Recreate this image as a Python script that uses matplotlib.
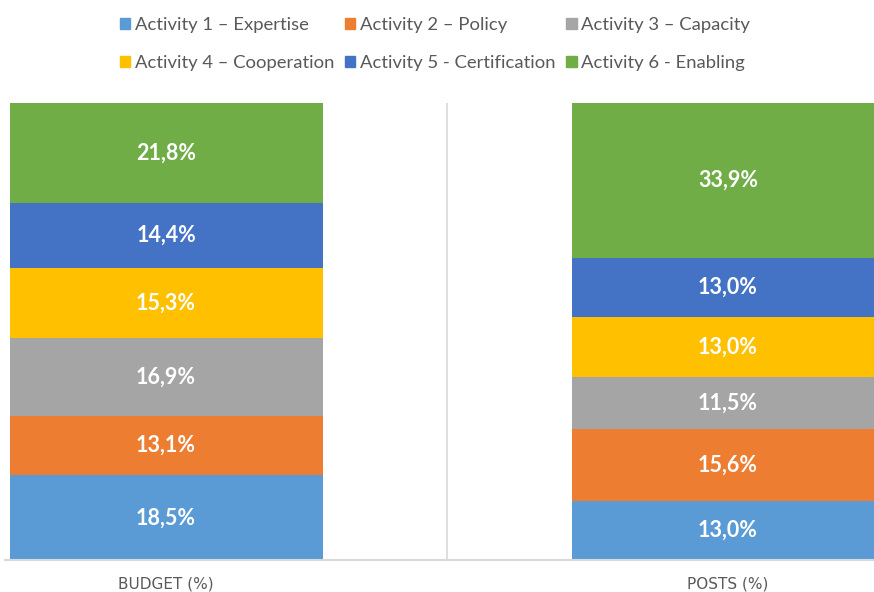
import matplotlib.pyplot as plt
from matplotlib.patches import Patch

# data
categories = ['BUDGET (%)', 'POSTS (%)']
activities = ['Activity 1 – Expertise', 'Activity 2 – Policy', 'Activity 3 – Capacity',
              'Activity 4 – Cooperation', 'Activity 5 - Certification', 'Activity 6 - Enabling']
budget = [18.5, 13.1, 16.9, 15.3, 14.4, 21.8]
posts = [13.0, 15.6, 11.5, 13.0, 13.0, 33.9]
colors = ['#5B9BD5', '#ED7D31', '#A5A5A5', '#FFC000', '#4472C4', '#70AD47']

plt.rcParams['font.family'] = ['Lato', 'DejaVu Sans']

fig = plt.figure(figsize=(8.74, 5.92), dpi=100)
# plot area: bottom at y=560px, top at y=103px
ax = fig.add_axes([0, 32 / 592, 1, 457 / 592])

x = [0, 1]
w = 313 / 562
bottoms = [0, 0]
for i, name in enumerate(activities):
    vals = [budget[i], posts[i]]
    ax.bar(x, vals, w, bottom=bottoms, color=colors[i], label=name)
    for j in range(2):
        ax.text(x[j], bottoms[j] + vals[j] / 2, ('%.1f%%' % vals[j]).replace('.', ','),
                ha='center', va='center', color='white', fontsize=15.5, fontweight='bold')
    bottoms = [bottoms[0] + vals[0], bottoms[1] + vals[1]]

ax.set_xlim(-0.5 + 115 / 562, -0.5 + 989 / 562)
ax.set_ylim(0, 100)
ax.axvline(0.5, color='#d9d9d9', lw=1.2)
for s in ax.spines.values():
    s.set_visible(False)
ax.axhline(0, xmin=5 / 874, xmax=1, color='#d9d9d9', lw=1.5, clip_on=False)
ax.set_yticks([])
ax.set_xticks(x)
ax.set_xticklabels(categories, color='#595959', fontsize=11, family='DejaVu Sans')
ax.tick_params(axis='x', length=0, pad=12)

# legend - excel order is row-major, matplotlib fills columns
handles = [Patch(color=c) for c in colors]
order = [0, 3, 1, 4, 2, 5]
fig.legend([handles[k] for k in order], [activities[k] for k in order],
           ncol=3, loc='upper center', bbox_to_anchor=(435 / 874, 1.0),
           frameon=False, fontsize=13.3, labelcolor='#595959',
           handlelength=0.55, handleheight=0.55, handletextpad=0.25,
           columnspacing=0.6, labelspacing=1.2)

plt.savefig('out.png', dpi=100)
